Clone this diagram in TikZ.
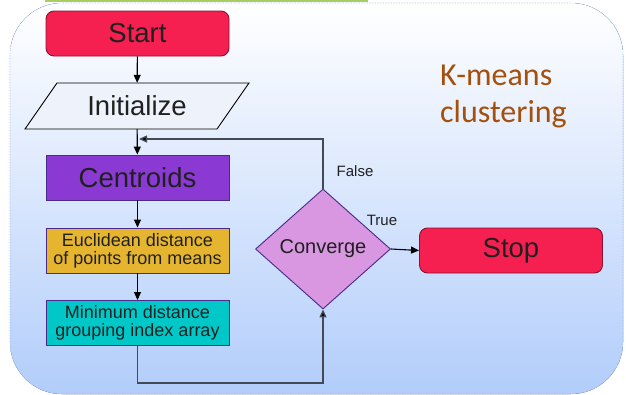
\documentclass[tikz,border=0pt]{standalone}
\usepackage{fontspec}
\setmainfont{Liberation Sans}
\newfontfamily\calib{Carlito}
\usetikzlibrary{shapes.geometric,arrows.meta}

\definecolor{bgblue}{HTML}{B2CDFB}
\definecolor{edgeblue}{HTML}{9DBCE8}
\definecolor{strip}{HTML}{A9CD62}
\definecolor{redbox}{HTML}{F51F50}
\definecolor{redline}{HTML}{8A1232}
\definecolor{purplebox}{HTML}{8A3AD2}
\definecolor{goldbox}{HTML}{E6B530}
\definecolor{cyanbox}{HTML}{00C8C8}
\definecolor{orchid}{HTML}{D897E0}
\definecolor{boxline}{HTML}{4A2A8A}
\definecolor{txt}{HTML}{202020}
\definecolor{brown}{HTML}{A4500C}
\definecolor{loopline}{HTML}{444A55}
\definecolor{paleio}{HTML}{EEF2FA}

\tikzset{
  terminal/.style={draw=redline, fill=redbox, line width=0.9pt, rounded corners=8pt,
    minimum width=183pt, minimum height=45pt, inner sep=0pt, text=txt,
    font=\fontsize{27.5}{30}\selectfont},
  process/.style={draw=boxline, line width=0.9pt, minimum width=183pt, minimum height=45pt,
    inner sep=0pt, text=txt, align=center},
  bigtext/.style={font=\fontsize{27.5}{30}\selectfont},
  smalltext/.style={font=\fontsize{18}{18}\selectfont},
  decision/.style={diamond, draw=boxline, fill=orchid, line width=0.9pt, inner sep=0pt,
    minimum width=135pt, minimum height=120pt, aspect=1.125, text=txt,
    font=\fontsize{20}{22}\selectfont},
  flow/.style={line width=1.1pt, draw=black, -{Triangle[length=8pt,width=7pt]}},
  loop/.style={line width=1.3pt, draw=loopline, -{Triangle[length=8pt,width=7pt,fill=black]}},
  branch/.style={text=txt, font=\fontsize{15}{17}\selectfont, inner sep=0pt}
}

\begin{document}
\begin{tikzpicture}[x=1pt, y=-1pt]
\useasboundingbox (0,0) rectangle (626,394);

% panel with vertical shading
\fill[top color=white, bottom color=bgblue, rounded corners=52pt] (10,3) rectangle (623,394);
\draw[edgeblue, densely dotted, line width=0.6pt, rounded corners=52pt] (10,3) rectangle (623,394);
\fill[strip] (45,0) rectangle (368,2);

% start / input
\node[terminal] (start) at (137.5,33.5) {Start};
\draw[black, fill=paleio, line width=0.9pt] (57,83) -- (249,83) -- (217,129) -- (25,129) -- cycle;
\node[inner sep=0pt, minimum width=192pt, minimum height=46pt, text=txt, bigtext] (init) at (137,106) {Initialize};

% processing steps
\node[process, fill=purplebox, bigtext] (cent) at (137.5,177.5) {Centroids};
\node[process, fill=goldbox, smalltext] (eucl) at (137.5,250.5) {Euclidean distance\\of points from means};
\node[process, fill=cyanbox, smalltext] (mind) at (137.5,323) {Minimum distance\\grouping index array};

% decision and end
\node[decision] (conv) at (323,249) {Converge};
\node[terminal] (stop) at (511,250.5) {Stop};

% title
\node[anchor=base west, inner sep=0pt, text=brown, font=\calib\fontsize{32}{36}\selectfont] (km1) at (440,85) {K-means};
\node[anchor=base west, inner sep=0pt, text=brown, font=\calib\fontsize{32}{36}\selectfont] (km2) at (440,122) {clustering};

% branch labels
\node[branch] (lfalse) at (355,171) {False};
\node[branch] (ltrue) at (382,220) {True};

% connectors
\coordinate (loopin) at (139,139);
\draw[flow] (start) -- (init);
\draw[flow] (init) -- (cent);
\draw[flow] (cent) -- (eucl);
\draw[flow] (eucl) -- (mind);
\draw[loop] (conv.north) |- (loopin);
\draw[loop] (mind.south) -- ++(0,37) -| (conv.south);
\draw[flow] (conv.east) -- (stop.west);
\end{tikzpicture}
\end{document}
